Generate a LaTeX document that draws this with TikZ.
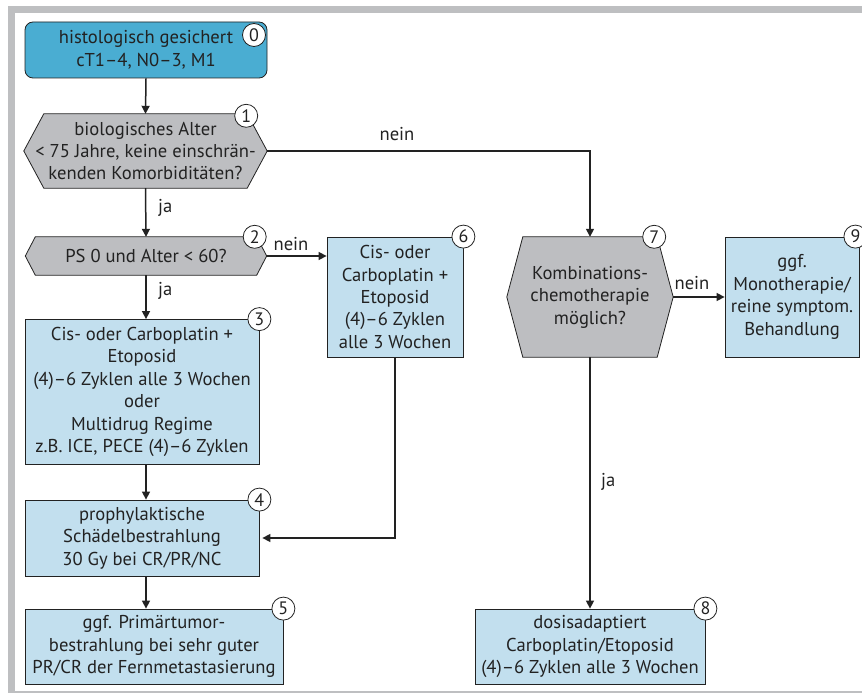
\documentclass[tikz,border=0pt]{standalone}
\usepackage{fontspec}
\setmainfont{PT Sans}
\usetikzlibrary{arrows.meta,calc}
\pgfdeclarelayer{background}
\pgfsetlayers{background,main}
\definecolor{frameg}{HTML}{BEBFC1}
\definecolor{topblue}{HTML}{4AADD2}
\definecolor{lblue}{HTML}{C2DFEE}
\definecolor{hexg}{HTML}{BDBEC1}
\definecolor{ink}{HTML}{222222}
\newcommand\hexshape[2]{%
  \begin{pgfonlayer}{background}
  \draw[hexs] ($(#1.north west)+(#2,0)$) -- ($(#1.north east)-(#2,0)$) -- (#1.east)
    -- ($(#1.south east)-(#2,0)$) -- ($(#1.south west)+(#2,0)$) -- (#1.west) -- cycle;
  \end{pgfonlayer}}
\begin{document}
\begin{tikzpicture}[x=1pt,y=-1pt,
  every node/.style={font=\fontsize{18.6}{22.4}\selectfont, text=ink},
  box/.style={draw=ink, line width=0.8pt, fill=lblue, align=center, inner sep=0pt},
  startbox/.style={box, fill=topblue, rounded corners=8pt},
  hexnode/.style={draw=none, align=center, inner sep=0pt},
  hexs/.style={draw=ink, line width=0.8pt, fill=hexg},
  num/.style={circle, draw=ink, fill=white, line width=0.8pt, minimum size=23pt, inner sep=0pt, font=\fontsize{18}{18}\selectfont},
  arr/.style={line width=1.5pt, draw=ink, -{Triangle[length=8pt,width=8pt]}},
  lbl/.style={inner sep=0pt}]
\useasboundingbox (0,0) rectangle (862,695);
% frame
\fill[frameg] (8,6) rectangle (862,13);
\fill[frameg] (8,6) rectangle (15,692);
\fill[frameg] (8,690.5) rectangle (862,692.5);
% nodes
\node[startbox, minimum width=242pt, minimum height=56pt] (n0) at (146,50) {histologisch gesichert\\cT1–4, N0–3, M1};
\node[hexnode, minimum width=243pt, minimum height=74pt] (n1) at (145.5,151) {biologisches Alter\\< 75 Jahre, keine einschrän-\\kenden Komorbiditäten?};
\hexshape{n1}{20}
\node[hexnode, minimum width=241pt, minimum height=38pt] (n2) at (146,256) {PS 0 und Alter < 60?};
\hexshape{n2}{10}
\node[box, minimum width=234pt, minimum height=145pt] (n3) at (142,392) {Cis- oder Carboplatin +\\Etoposid\\(4)–6 Zyklen alle 3 Wochen\\oder\\Multidrug Regime\\z.B. ICE, PECE (4)–6 Zyklen};
\node[box, minimum width=234pt, minimum height=76pt] (n4) at (142,538) {prophylaktische\\Schädelbestrahlung\\30 Gy bei CR/PR/NC};
\node[box, minimum width=258pt, minimum height=75pt] (n5) at (154,646.5) {ggf. Primärtumor-\\bestrahlung bei sehr guter\\PR/CR der Fernmetastasierung};
\node[box, minimum width=136pt, minimum height=120pt] (n6) at (395,297) {Cis- oder\\Carboplatin +\\Etoposid\\(4)–6 Zyklen\\alle 3 Wochen};
\node[hexnode, minimum width=166pt, minimum height=120pt] (n7) at (590,297) {Kombinations-\\chemotherapie\\möglich?};
\hexshape{n7}{16}
\node[box, minimum width=230pt, minimum height=75pt] (n8) at (590,646.5) {dosisadaptiert\\Carboplatin/Etoposid\\(4)–6 Zyklen alle 3 Wochen};
\node[box, minimum width=134pt, minimum height=120pt] (n9) at (792,297) {ggf.\\Monotherapie/\\reine symptom.\\Behandlung};
% number circles
\node[num] (c0) at (254,35) {0};
\node[num] (c1) at ($(n1.north east)+(-21,2)$) {1};
\node[num] (c2) at ($(n2.north east)+(-12,0)$) {2};
\node[num] (c3) at (n3.north east) {3};
\node[num] (c4) at (n4.north east) {4};
\node[num] (c5) at (n5.north east) {5};
\node[num] (c6) at (n6.north east) {6};
\node[num] (c7) at ($(n7.north east)+(-19,0)$) {7};
\node[num] (c8) at (n8.north east) {8};
\node[num] (c9) at ($(n9.north east)+(-4,0)$) {9};
% connectors
\draw[arr] (n0.south) -- (n1.north);
\draw[arr] (n1.east) -- (n1.east -| n7.north) -- (n7.north);
\node[lbl] (l1) at (397,134) {nein};
\draw[arr] (n1.south) -- (n2.north);
\node[lbl, anchor=west] (l2) at (158,208) {ja};
\draw[arr] (n2.east) -- (n2.east -| n6.west);
\node[lbl] (l3) at (291,244) {nein};
\draw[arr] (n2.south) -- (n2.south |- n3.north);
\node[lbl, anchor=west] (l4) at (158,291) {ja};
\draw[arr] (n2.south |- n3.south) -- (n2.south |- n4.north);
\draw[arr] (n2.south |- n4.south) -- (n2.south |- n5.north);
\draw[arr, shorten >=3pt] (n6.south) -- (n6.south |- n4.east) -- (n4.east);
\draw[arr] (n7.east) -- (n9.west);
\node[lbl] (l5) at (692,283) {nein};
\draw[arr] (n7.south) -- (n8.north);
\node[lbl, anchor=west] (l6) at (601,482) {ja};
\end{tikzpicture}
\end{document}
